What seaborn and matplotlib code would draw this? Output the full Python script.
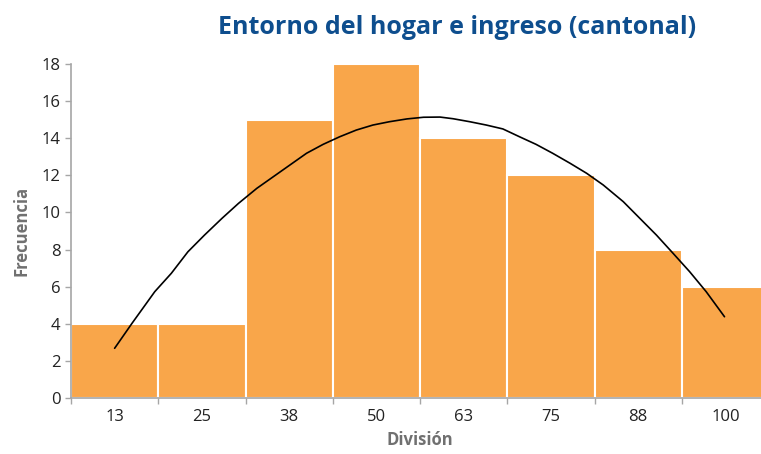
import numpy as np
import pandas as pd
import matplotlib
matplotlib.use('Agg')
import matplotlib.pyplot as plt
import seaborn as sns

divisiones = ['13', '25', '38', '50', '63', '75', '88', '100']
frecuencias = [4, 4, 15, 18, 14, 12, 8, 6]

# curva de ajuste (posicion en categorias, valor)
curva_pos = [0.00, 0.20, 0.35, 0.46, 0.65, 0.84, 1.03, 1.23, 1.42, 1.63,
             1.82, 2.01, 2.20, 2.39, 2.58, 2.77, 2.96, 3.15, 3.35, 3.54,
             3.73, 3.88, 4.07, 4.26, 4.45, 4.64, 4.83, 5.02, 5.22, 5.41,
             5.60, 5.83, 6.02, 6.21, 6.40, 6.59, 6.78, 6.99]
curva_val = [2.68, 4.03, 5.01, 5.73, 6.72, 7.88, 8.78, 9.68, 10.49, 11.30,
             11.93, 12.56, 13.19, 13.67, 14.08, 14.44, 14.71, 14.89, 15.04, 15.13,
             15.14, 15.05, 14.89, 14.71, 14.50, 14.08, 13.67, 13.19, 12.65, 12.11,
             11.48, 10.58, 9.68, 8.78, 7.80, 6.81, 5.73, 4.38]

sns.set_style('white')
plt.rcParams['font.family'] = ['Open Sans', 'DejaVu Sans']

df = pd.DataFrame({'division': divisiones, 'frecuencia': frecuencias})

fig = plt.figure(figsize=(7.61, 4.54), dpi=100)
ax = fig.add_axes([71/761, 1-398/454, 698/761, 334/454])

sns.barplot(data=df, x='division', y='frecuencia', order=divisiones,
            color='#F9A64A', saturation=1, width=1, edgecolor='white',
            linewidth=1.5, ax=ax)
ax.plot(curva_pos, curva_val, color='black', lw=1.2)

ax.set_xlim(-0.5, 7.5)
ax.set_ylim(0, 18)
ax.set_yticks(range(0, 19, 2))
ax.set_xticks(range(len(divisiones)))
ax.set_xticklabels(divisiones)
ax.set_xticks(np.arange(-0.5, 8, 1), minor=True)

grey = '#A6A6A6'
for s in ['top', 'right']:
    ax.spines[s].set_visible(False)
for s in ['left', 'bottom']:
    ax.spines[s].set_color(grey)
    ax.spines[s].set_linewidth(1.2)

ax.tick_params(axis='x', which='major', length=0, labelsize=12, pad=8, colors='#222222')
ax.tick_params(axis='x', which='minor', length=4, color=grey, width=1, direction='out', bottom=True)
ax.tick_params(axis='y', length=4, color=grey, width=1, direction='out', left=True,
               labelsize=12, colors='#222222')
for lbl in ax.get_yticklabels():
    lbl.set_color('#222222')

ax.set_xlabel('División', fontsize=12, fontweight='bold', color='#707070', labelpad=4)
ax.set_ylabel('Frecuencia', fontsize=12, fontweight='bold', color='#707070', labelpad=8)

fig.text(457/761, 1-27/454, 'Entorno del hogar e ingreso (cantonal)', ha='center', va='center',
         fontsize=18, fontweight='bold', color='#0E4E8E')

fig.savefig('out.png', dpi=100)
